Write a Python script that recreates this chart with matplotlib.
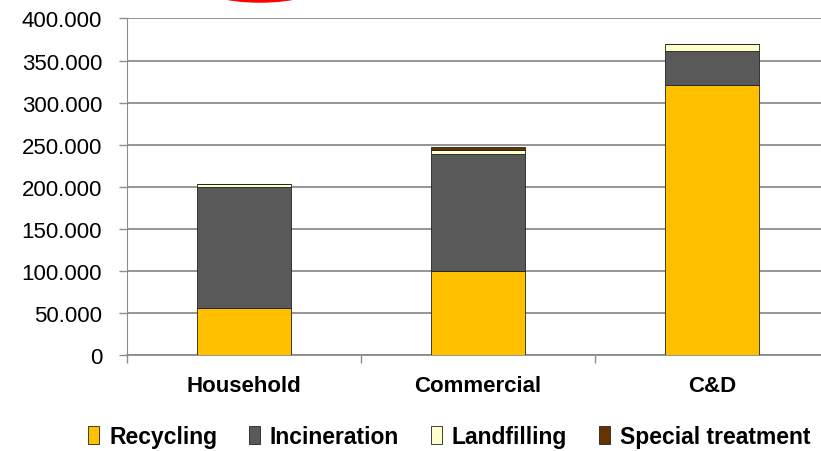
import matplotlib
matplotlib.use("Agg")
import matplotlib.pyplot as plt
import numpy as np
from matplotlib.patches import Ellipse
from matplotlib.ticker import FuncFormatter, FixedLocator

plt.rcParams['font.family'] = ['Liberation Sans', 'DejaVu Sans']

categories = ["Household", "Commercial", "C&D"]
recycling = [56000, 100000, 321000]
incineration = [144000, 139000, 40000]
landfilling = [3000, 4500, 9000]
special = [0, 4500, 0]

series = [("Recycling", recycling, "#FFC000"),
          ("Incineration", incineration, "#595959"),
          ("Landfilling", landfilling, "#FFFFCC"),
          ("Special treatment", special, "#663300")]

fig = plt.figure(figsize=(8.21, 4.52), dpi=100)
ax = fig.add_axes([0.1547, 0.2113, 0.855, 0.7456])

x = np.arange(len(categories))
bottom = np.zeros(len(categories))
for name, vals, col in series:
    ax.bar(x, vals, 0.4, bottom=bottom, color=col, edgecolor="#222222",
           linewidth=0.6, label=name, zorder=3)
    bottom += np.array(vals)

ax.set_xlim(-0.5, 2.5)
ax.set_ylim(0, 400000)
ax.set_yticks(np.arange(0, 400001, 50000))
ax.yaxis.set_major_formatter(FuncFormatter(lambda v, p: f"{v:,.0f}".replace(",", ".")))
ax.grid(axis="y", color="#8c8c8c", linewidth=1.3, zorder=0)

ax.set_xticks(x)
ax.set_xticklabels(categories, fontsize=16, fontweight="bold")
ax.xaxis.set_minor_locator(FixedLocator([-0.5, 0.5, 1.5, 2.5]))
ax.tick_params(axis="x", which="major", length=0, pad=14)
ax.tick_params(axis="x", which="minor", length=6, color="#8c8c8c", width=1)
ax.tick_params(axis="y", length=6, color="#8c8c8c", width=1, pad=12, labelsize=16)

for s in ["top", "right"]:
    ax.spines[s].set_visible(False)
ax.spines["left"].set_color("#8c8c8c")
ax.spines["bottom"].set_color("#8c8c8c")
ax.spines["bottom"].set_linewidth(1.3)

handles, labels = ax.get_legend_handles_labels()
fig.legend(handles, labels, loc="center", bbox_to_anchor=(0.5475, 0.033), ncol=4,
           frameon=False, handlelength=0.45, handleheight=0.85, handletextpad=0.45,
           columnspacing=1.4, prop={"size": 16.5, "weight": "bold"})

# red circle mark cut off at the top
fig.patches.append(Ellipse((260 / 821, (452 + 18) / 452), 130 / 821, 40 / 452,
                           transform=fig.transFigure, fill=False,
                           edgecolor="#FF0000", linewidth=2.5))

fig.savefig("out.png", dpi=100)
